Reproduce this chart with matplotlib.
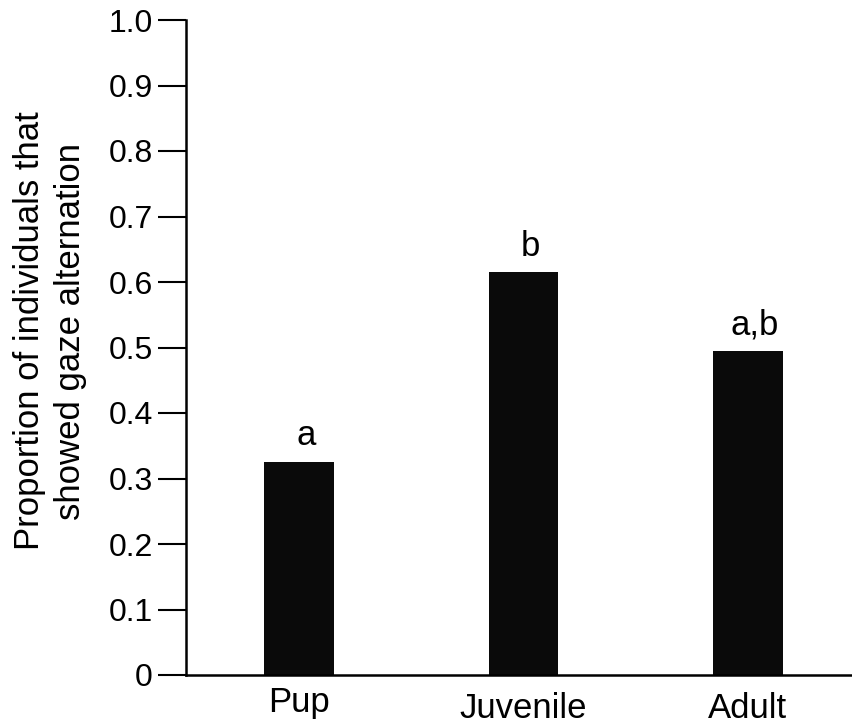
import matplotlib
matplotlib.use("Agg")
import matplotlib.pyplot as plt
import matplotlib.transforms as mtransforms

plt.rcParams['font.family'] = ['Liberation Sans', 'DejaVu Sans']

categories = ["Pup", "Juvenile", "Adult"]
values = [0.325, 0.615, 0.495]
letters = ["a", "b", "a,b"]
yticks = [0, 0.1, 0.2, 0.3, 0.4, 0.5, 0.6, 0.7, 0.8, 0.9, 1.0]
ytick_labels = ["0", "0.1", "0.2", "0.3", "0.4", "0.5", "0.6", "0.7", "0.8", "0.9", "1.0"]

W, H = 853, 723
fig = plt.figure(figsize=(W / 100, H / 100), dpi=100)
ax = fig.add_axes([186 / W, 1 - 675 / H, 1 - 186 / W, (675 - 20) / H])

x = list(range(len(categories)))
ax.bar(x, values, width=0.31, color="#0a0a0a", edgecolor="none")
ax.set_xlim(-0.503, 2.468)
ax.set_ylim(0, 1.0)

for xi, v, t in zip(x, values, letters):
    ax.annotate(t, (xi, v), xytext=(5, 12), textcoords="offset points",
                ha="center", va="baseline", fontsize=25)

ax.set_yticks(yticks)
ax.set_yticklabels(ytick_labels, fontsize=23)
ax.set_xticks(x)
ax.set_xticklabels(categories, fontsize=25)
ax.tick_params(axis="y", length=20, width=1.5, pad=4, direction="out")
ax.tick_params(axis="x", length=0, pad=12)

for s in ["top", "right"]:
    ax.spines[s].set_visible(False)
ax.spines["left"].set_linewidth(1.8)
ax.spines["bottom"].set_linewidth(1.8)

# Pup label sits slightly higher
lbl = ax.get_xticklabels()[0]
lbl.set_transform(lbl.get_transform() + mtransforms.ScaledTranslation(0, 6 / 100, fig.dpi_scale_trans))

fig.text(50 / W, 1 - 331 / H, "Proportion of individuals that\nshowed gaze alternation",
         rotation=90, ha="center", va="center", fontsize=25, linespacing=1.3,
         multialignment="center")

fig.savefig("out.png", dpi=100)
